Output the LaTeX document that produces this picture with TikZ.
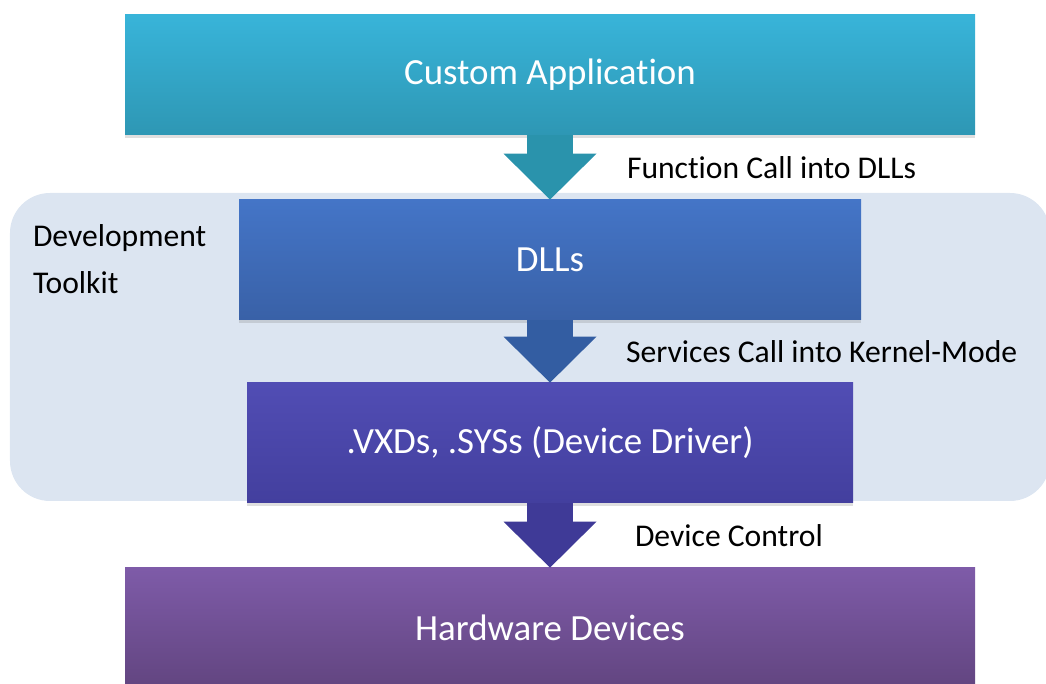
\documentclass[tikz,border=0pt]{standalone}
\usepackage{fontspec}
\setmainfont{Carlito}[Ligatures=NoCommon]
\usetikzlibrary{arrows.meta,shadows,positioning}

\definecolor{appTop}{HTML}{38B4D9}
\definecolor{appBot}{HTML}{2E97B4}
\definecolor{dllTop}{HTML}{4475C7}
\definecolor{dllBot}{HTML}{3961A7}
\definecolor{drvTop}{HTML}{514DB4}
\definecolor{drvBot}{HTML}{433F9E}
\definecolor{hwTop}{HTML}{7E5BA8}
\definecolor{hwBot}{HTML}{624580}
\definecolor{kitBg}{HTML}{DCE5F1}
\definecolor{arrA}{HTML}{2A93AC}
\definecolor{arrB}{HTML}{335DA2}
\definecolor{arrC}{HTML}{3F3A97}

\tikzset{
  layer/.style={rectangle, inner sep=0pt, minimum height=2.4cm, text=white,
    font=\fontsize{21}{25}\selectfont,
    drop shadow={opacity=0.25, shadow xshift=0pt, shadow yshift=-0.06cm}},
  flow/.style={line width=0.92cm,
    -{Triangle[width=1.86cm, length=0.92cm, line width=0pt]}},
  lbl/.style={font=\fontsize{18}{26.7}\selectfont, inner sep=0pt, outer sep=0pt, text=black}
}

\begin{document}
\begin{tikzpicture}
		\useasboundingbox (0,0) rectangle (20.92,13.68);
		% toolkit panel
		\fill[kitBg, rounded corners=0.8cm] (0.2,3.66) rectangle (21.0,9.82);
		\node[lbl, anchor=west, align=left] (kit) at (0.66,8.49) {Development\\Toolkit};
		% layers
		\node[layer, minimum width=17cm, top color=appTop, bottom color=appBot]
		(app) at (11,12.18) {Custom Application};
		\node[layer, minimum width=12.44cm, top color=dllTop, bottom color=dllBot]
		(dll) at (11,8.48) {DLLs};
		\node[layer, minimum width=12.12cm, top color=drvTop, bottom color=drvBot]
		(drv) at (11,4.82) {.VXDs, .SYSs (Device Driver)};
		\node[layer, minimum width=17cm, top color=hwTop, bottom color=hwBot]
		(hw) at (11,1.12) {Hardware Devices};
		% calls
		\draw[flow, arrA] (app.south) -- node[lbl, midway, right=1.54cm]{Function Call into DLLs} (dll.north);
		\draw[flow, arrB] (dll.south) -- node[lbl, midway, right=1.52cm]{Services Call into Kernel-Mode} (drv.north);
		\draw[flow, arrC] (drv.south) -- node[lbl, midway, right=1.7cm]{Device Control} (hw.north);
		\end{tikzpicture}
\end{document}
